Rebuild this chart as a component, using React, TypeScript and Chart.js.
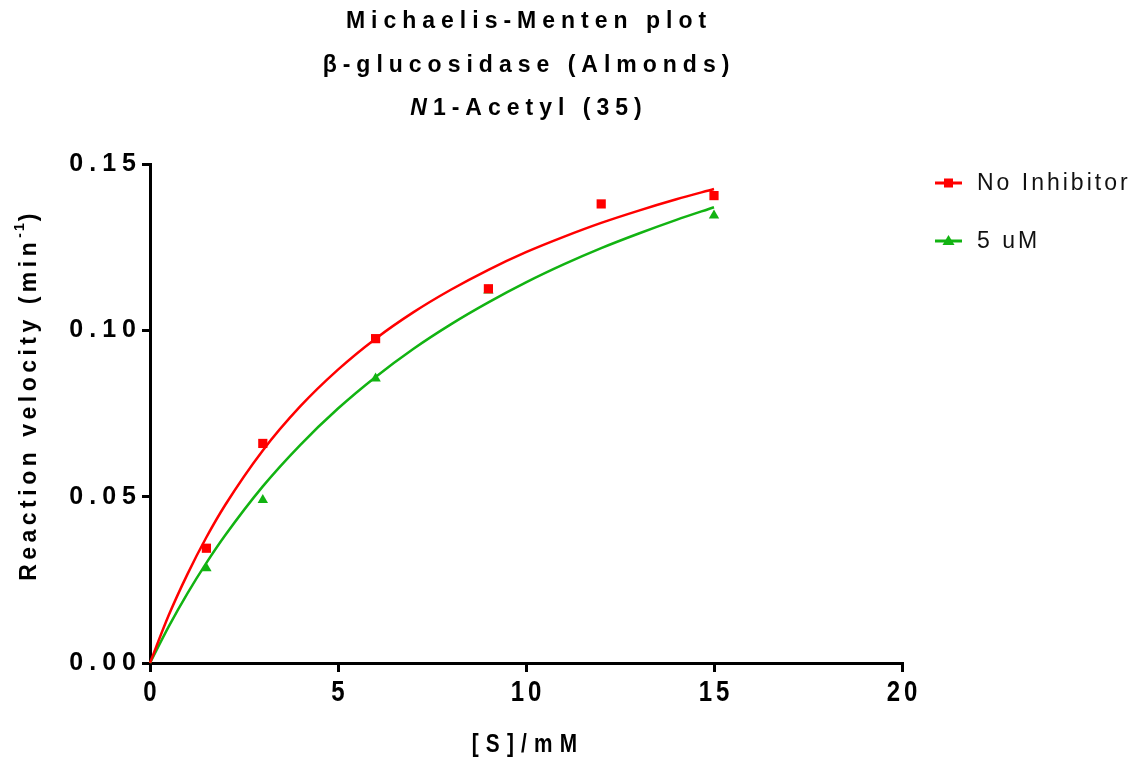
import React, { useEffect, useRef } from "react";
import { Chart, registerables } from "chart.js";

Chart.register(...registerables);

const substrateNoInh = [1.5, 3, 6, 9, 12, 15];
const velocityNoInh = [0.0345, 0.066, 0.0975, 0.1125, 0.138, 0.1405];
const substrate5uM = [1.5, 3, 6, 9, 15];
const velocity5uM = [0.0285, 0.049, 0.0855, 0.112, 0.1345];

const fitX = [0, 0.5, 1, 1.5, 2, 3, 4, 5, 6, 7, 8, 9, 10, 11, 12, 13, 14, 15];
const fitNoInh = [0, 0.0144, 0.0268, 0.0378, 0.0475, 0.0639, 0.0772, 0.0882, 0.0975, 0.1054, 0.1122, 0.1182, 0.1235, 0.1281, 0.1323, 0.136, 0.1394, 0.1425];
const fit5uM = [0, 0.011, 0.021, 0.0301, 0.0384, 0.0531, 0.0656, 0.0765, 0.086, 0.0944, 0.1018, 0.1084, 0.1144, 0.1198, 0.1247, 0.1291, 0.1332, 0.137];

const xTicks = [0, 5, 10, 15, 20];
const yTicks = [0, 0.05, 0.1, 0.15];

const titleLines = ["Michaelis-Menten plot", "β-glucosidase (Almonds)", "N1-Acetyl (35)"];
const legendLabels = ["No Inhibitor", "5 uM"];
const xTitle = "[S]/mM";
const yTitle = "Reaction velocity (min";

const RED = "#ff0000";
const GREEN = "#12b312";
const SANS = "'Liberation Sans', Arial, sans-serif";

const pts = (xs: number[], ys: number[]) => xs.map((x, i) => ({ x, y: ys[i] }));

// draw horizontally condensed text centred at (x, y)
function narrowText(ctx: CanvasRenderingContext2D, text: string, x: number, y: number, squeeze: number) {
  ctx.save();
  ctx.translate(x, y);
  ctx.scale(squeeze, 1);
  ctx.textAlign = "center";
  ctx.fillText(text, 0, 0);
  ctx.restore();
}

const decorPlugin = {
  id: "decor",
  beforeUpdate(chart: any) {
    chart.ctx.letterSpacing = "6px";
  },
  beforeDraw(chart: any) {
    chart.ctx.letterSpacing = "6px";
  },
  afterDraw(chart: any) {
    const ctx = chart.ctx as CanvasRenderingContext2D;
    const ca = chart.chartArea;
    const cx = (ca.left + ca.right) / 2;
    ctx.save();
    ctx.fillStyle = "#000";
    // Title
    ctx.textBaseline = "alphabetic";
    (ctx as any).letterSpacing = "6px";
    ctx.font = `bold 23px ${SANS}`;
    ctx.textAlign = "center";
    ctx.fillText(titleLines[0], cx + 3, 20);
    ctx.fillText(titleLines[1], cx + 3, 64);
    const rest = titleLines[2].slice(1);
    ctx.textAlign = "left";
    ctx.font = `italic bold 23px ${SANS}`;
    const wN = ctx.measureText("N").width;
    ctx.font = `bold 23px ${SANS}`;
    const wR = ctx.measureText(rest).width;
    const start = cx + 3 - (wN + wR) / 2;
    ctx.font = `italic bold 23px ${SANS}`;
    ctx.fillText("N", start, 107);
    ctx.font = `bold 23px ${SANS}`;
    ctx.fillText(rest, start + wN, 107);

    ctx.textBaseline = "middle";
    // X tick labels (condensed, positioned by the x scale)
    const xs = chart.scales.x;
    ctx.font = `bold 30px ${SANS}`;
    (ctx as any).letterSpacing = "5px";
    xTicks.forEach((v) => {
      narrowText(ctx, String(v), xs.getPixelForValue(v) + 2, 685, 0.8);
    });

    // X title
    ctx.font = `bold 26px ${SANS}`;
    (ctx as any).letterSpacing = "9px";
    narrowText(ctx, xTitle, cx + 2, 737, 0.8);

    // Legend
    (ctx as any).letterSpacing = "3px";
    ctx.font = `23px ${SANS}`;
    const legY = [175, 233];
    const colors = [RED, GREEN];
    legendLabels.forEach((lab, i) => {
      const y = legY[i];
      ctx.strokeStyle = colors[i];
      ctx.lineWidth = 3;
      ctx.beginPath();
      ctx.moveTo(927, y);
      ctx.lineTo(954, y);
      ctx.stroke();
      ctx.fillStyle = colors[i];
      if (i === 0) {
        ctx.fillRect(940.5 - 4.5, y - 4.5, 9, 9);
      } else {
        ctx.beginPath();
        ctx.moveTo(940.5, y - 6);
        ctx.lineTo(946.5, y + 4);
        ctx.lineTo(934.5, y + 4);
        ctx.closePath();
        ctx.fill();
      }
      ctx.fillStyle = "#111";
      ctx.textAlign = "left";
      ctx.fillText(lab, 969, y + 1);
    });

    // Y title (rotated)
    ctx.fillStyle = "#000";
    ctx.save();
    ctx.translate(22, 387);
    ctx.rotate(-Math.PI / 2);
    ctx.font = `bold 23px ${SANS}`;
    (ctx as any).letterSpacing = "4.5px";
    const w1 = ctx.measureText(yTitle).width;
    ctx.font = `bold 14px ${SANS}`;
    (ctx as any).letterSpacing = "2px";
    const wSup = ctx.measureText("-1").width;
    ctx.font = `bold 23px ${SANS}`;
    (ctx as any).letterSpacing = "4.5px";
    const wClose = ctx.measureText(")").width;
    const total = w1 + wSup + wClose;
    let x0 = -total / 2;
    ctx.textAlign = "left";
    ctx.fillText(yTitle, x0, 0);
    x0 += w1;
    ctx.font = `bold 14px ${SANS}`;
    (ctx as any).letterSpacing = "2px";
    ctx.fillText("-1", x0, -10);
    x0 += wSup;
    ctx.font = `bold 23px ${SANS}`;
    (ctx as any).letterSpacing = "4.5px";
    ctx.fillText(")", x0, 0);
    ctx.restore();

    ctx.restore();
  },
};

export default function App() {
  const ref = useRef<HTMLCanvasElement>(null);
  useEffect(() => {
    if (!ref.current) return;
    const chart = new Chart(ref.current, {
      type: "scatter",
      data: {
        datasets: [
          {
            label: "No Inhibitor fit",
            data: pts(fitX, fitNoInh),
            showLine: true,
            borderColor: RED,
            borderWidth: 2.5,
            pointRadius: 0,
            cubicInterpolationMode: "monotone",
            clip: false,
          } as any,
          {
            label: "5 uM fit",
            data: pts(fitX, fit5uM),
            showLine: true,
            borderColor: GREEN,
            borderWidth: 2.5,
            pointRadius: 0,
            cubicInterpolationMode: "monotone",
            clip: false,
          } as any,
          {
            label: legendLabels[0],
            data: pts(substrateNoInh, velocityNoInh),
            pointStyle: "rect",
            pointRadius: 6.5,
            backgroundColor: RED,
            borderColor: RED,
            borderWidth: 0,
            clip: false,
          } as any,
          {
            label: legendLabels[1],
            data: pts(substrate5uM, velocity5uM),
            pointStyle: "triangle",
            pointRadius: 6,
            backgroundColor: GREEN,
            borderColor: GREEN,
            borderWidth: 0,
            clip: false,
          } as any,
        ],
      },
      options: {
        animation: false,
        responsive: false,
        maintainAspectRatio: false,
        layout: { padding: { top: 156, right: 230, left: 0, bottom: 0 } },
        plugins: { legend: { display: false }, tooltip: { enabled: false }, title: { display: false } },
        scales: {
          x: {
            type: "linear",
            min: 0,
            max: 20,
            afterFit: (s: any) => { s.height = 94; },
            afterBuildTicks: (s: any) => { s.ticks = xTicks.map((v) => ({ value: v })); },
            border: { color: "#000", width: 3 },
            grid: { drawOnChartArea: false, drawTicks: true, tickLength: 9, lineWidth: 3, color: "#000" },
            ticks: { display: false, autoSkip: false },
          },
          y: {
            type: "linear",
            min: 0,
            max: 0.15,
            afterFit: (s: any) => { s.width = 142; },
            afterBuildTicks: (s: any) => { s.ticks = yTicks.map((v) => ({ value: v })); },
            border: { color: "#000", width: 3 },
            grid: { drawOnChartArea: false, drawTicks: true, tickLength: 8, lineWidth: 3, color: "#000" },
            ticks: {
              color: "#000",
              padding: 0,
              autoSkip: false,
              font: { family: SANS, size: 25, weight: "bold" },
              callback: (v: any) => Number(v).toFixed(2),
            },
          },
        },
      } as any,
      plugins: [decorPlugin],
    });
    return () => chart.destroy();
  }, []);
  return (
    <div style={{ width: 1124, height: 749 }}>
      <canvas ref={ref} width={1124} height={749} style={{ width: 1124, height: 749, display: "block" }} />
    </div>
  );
}
